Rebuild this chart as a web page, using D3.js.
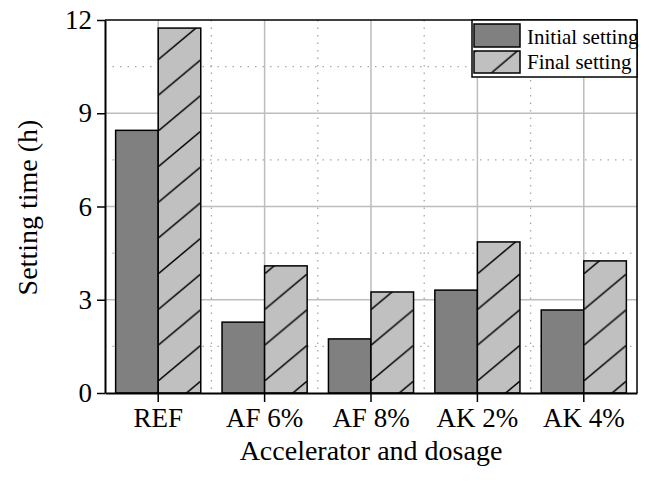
<!DOCTYPE html>
<html>
<head>
<meta charset="utf-8">
<script src="https://cdn.jsdelivr.net/npm/d3@7"></script>
<style>
  html, body { margin: 0; padding: 0; background: #fff; }
  svg { display: block; }
  svg text { font-family: 'Liberation Serif' !important; }
</style>
</head>
<body>
<svg id="chart" width="649" height="486"></svg>
<script>
const categories = ["REF", "AF 6%", "AF 8%", "AK 2%", "AK 4%"];
const seriesNames = ["Initial setting", "Final setting"];
const initialSetting = [8.45, 2.28, 1.74, 3.31, 2.67];
const finalSetting = [11.74, 4.09, 3.25, 4.86, 4.25];
const yTicks = [0, 3, 6, 9, 12];
const yMinorTicks = [1.5, 4.5, 7.5, 10.5];
const xLabel = "Accelerator and dosage";
const yLabel = "Setting time (h)";

const FONT = "Liberation Serif";
const W = 649, H = 486;
const margin = {left: 105, right: 12, top: 20, bottom: 93};
const svg = d3.select("#chart");
const x0 = margin.left, x1 = W - margin.right, yTop = margin.top, yBot = H - margin.bottom;

const x = d3.scaleBand().domain(categories).range([x0, x1]).padding(0);
const xs = d3.scaleBand().domain(seriesNames).range([x.bandwidth() * 0.1, x.bandwidth() * 0.9]).padding(0);
const y = d3.scaleLinear().domain([0, 12]).range([yBot, yTop]);

const colors = {"Initial setting": "#808080", "Final setting": "#c0c0c0"};
const hatchH = 35.7;

// Grid
const grid = svg.append("g");
grid.selectAll(".hmin").data(yMinorTicks).join("line")
  .attr("x1", x0).attr("x2", x1)
  .attr("y1", d => y(d)).attr("y2", d => y(d))
  .attr("stroke", "#a8a8a8").attr("stroke-width", 1.3).attr("stroke-dasharray", "1.5,6");
grid.selectAll(".vmin").data(categories.slice(1)).join("line")
  .attr("x1", d => x(d)).attr("x2", d => x(d))
  .attr("y1", yTop).attr("y2", yBot)
  .attr("stroke", "#a8a8a8").attr("stroke-width", 1.3).attr("stroke-dasharray", "1.5,6");
grid.selectAll(".hmaj").data(yTicks.filter(d => d > 0 && d < 12)).join("line")
  .attr("x1", x0).attr("x2", x1)
  .attr("y1", d => y(d)).attr("y2", d => y(d))
  .attr("stroke", "#bdbdbd").attr("stroke-width", 1.5);
grid.selectAll(".vmaj").data(categories).join("line")
  .attr("x1", d => x(d) + x.bandwidth() / 2).attr("x2", d => x(d) + x.bandwidth() / 2)
  .attr("y1", yTop).attr("y2", yBot)
  .attr("stroke", "#bdbdbd").attr("stroke-width", 1.5);

// Axis titles (drawn early, plain text)
svg.append("text").attr("x", (x0 + x1) / 2).attr("y", 460)
  .attr("text-anchor", "middle").attr("font-family", FONT).attr("font-size", 28).text(xLabel);
svg.append("text").attr("transform", `translate(37,${(yTop + yBot) / 2 + 1}) rotate(-90)`)
  .attr("text-anchor", "middle").attr("font-family", FONT).attr("font-size", 28).text(yLabel);

const defs = svg.append("defs");
function makeHatch(id, ox, oy, w) {
  const p = defs.append("pattern")
    .attr("id", id)
    .attr("patternUnits", "userSpaceOnUse")
    .attr("width", w).attr("height", hatchH)
    .attr("patternTransform", `translate(${ox},${oy})`);
  p.append("rect").attr("width", w).attr("height", hatchH).attr("fill", colors["Final setting"]);
  p.append("path")
    .attr("d", `M${-w},${2 * hatchH} L${2 * w},${-hatchH}`)
    .attr("stroke", "#000").attr("stroke-width", 1.4).attr("fill", "none");
}

// Bars
const barsG = svg.append("g");
categories.forEach((c, i) => {
  const bw = xs.bandwidth();
  const xi = x(c) + xs("Initial setting");
  barsG.append("rect")
    .attr("x", xi).attr("y", y(initialSetting[i]))
    .attr("width", bw).attr("height", y(0) - y(initialSetting[i]))
    .attr("fill", colors["Initial setting"]).attr("stroke", "#000").attr("stroke-width", 1.5);
  const xf = x(c) + xs("Final setting");
  const pid = "hatch" + i;
  makeHatch(pid, xf, y(0) - 12, bw);
  barsG.append("rect")
    .attr("x", xf).attr("y", y(finalSetting[i]))
    .attr("width", bw).attr("height", y(0) - y(finalSetting[i]))
    .attr("fill", `url(#${pid})`).attr("stroke", "#000").attr("stroke-width", 1.5);
});

// Axes
const yAxis = svg.append("g").attr("transform", `translate(${x0},0)`)
  .call(d3.axisLeft(y).tickValues(yTicks).tickSize(8).tickSizeOuter(0).tickPadding(5));
yAxis.attr("font-family", FONT).attr("font-size", 27);
yAxis.select(".domain").attr("stroke-width", 2);
yAxis.selectAll(".tick line").attr("stroke-width", 1.5);

const xAxis = svg.append("g").attr("transform", `translate(0,${yBot})`)
  .call(d3.axisBottom(x).tickSize(9).tickSizeOuter(0).tickPadding(6));
xAxis.attr("font-family", FONT).attr("font-size", 27);
xAxis.select(".domain").attr("stroke-width", 2);
xAxis.selectAll(".tick line").attr("stroke-width", 1.5);

// Frame top and right
svg.append("line").attr("x1", x0).attr("x2", x1).attr("y1", yTop).attr("y2", yTop)
  .attr("stroke", "#000").attr("stroke-width", 1.5);
svg.append("line").attr("x1", x1).attr("x2", x1).attr("y1", yTop).attr("y2", yBot)
  .attr("stroke", "#000").attr("stroke-width", 1.5);

// Legend
const lg = svg.append("g");
lg.append("rect").attr("x", 472).attr("y", yTop).attr("width", x1 - 472).attr("height", 57)
  .attr("fill", "#fff").attr("stroke", "#000").attr("stroke-width", 1.5);
const legendHatchW = 42;
const lpat = defs.append("pattern").attr("id", "lhatch")
  .attr("patternUnits", "userSpaceOnUse").attr("width", legendHatchW).attr("height", hatchH)
  .attr("patternTransform", `translate(491.7,${72.7 - hatchH})`);
lpat.append("rect").attr("width", legendHatchW).attr("height", hatchH).attr("fill", colors["Final setting"]);
lpat.append("path").attr("d", `M0,${hatchH} L${legendHatchW},0`).attr("stroke", "#000").attr("stroke-width", 1.4);
const legendRows = [
  {name: seriesNames[0], y: 24, h: 23, fill: colors["Initial setting"], ty: 44},
  {name: seriesNames[1], y: 51, h: 22, fill: "url(#lhatch)", ty: 68.5}
];
legendRows.forEach(r => {
  lg.append("rect").attr("x", 474).attr("y", r.y).attr("width", 46).attr("height", r.h)
    .attr("fill", r.fill).attr("stroke", "#000").attr("stroke-width", 1.5);
  lg.append("text").attr("x", 527).attr("y", r.ty).attr("font-family", FONT).attr("font-size", 21).text(r.name);
});
</script>
</body>
</html>
